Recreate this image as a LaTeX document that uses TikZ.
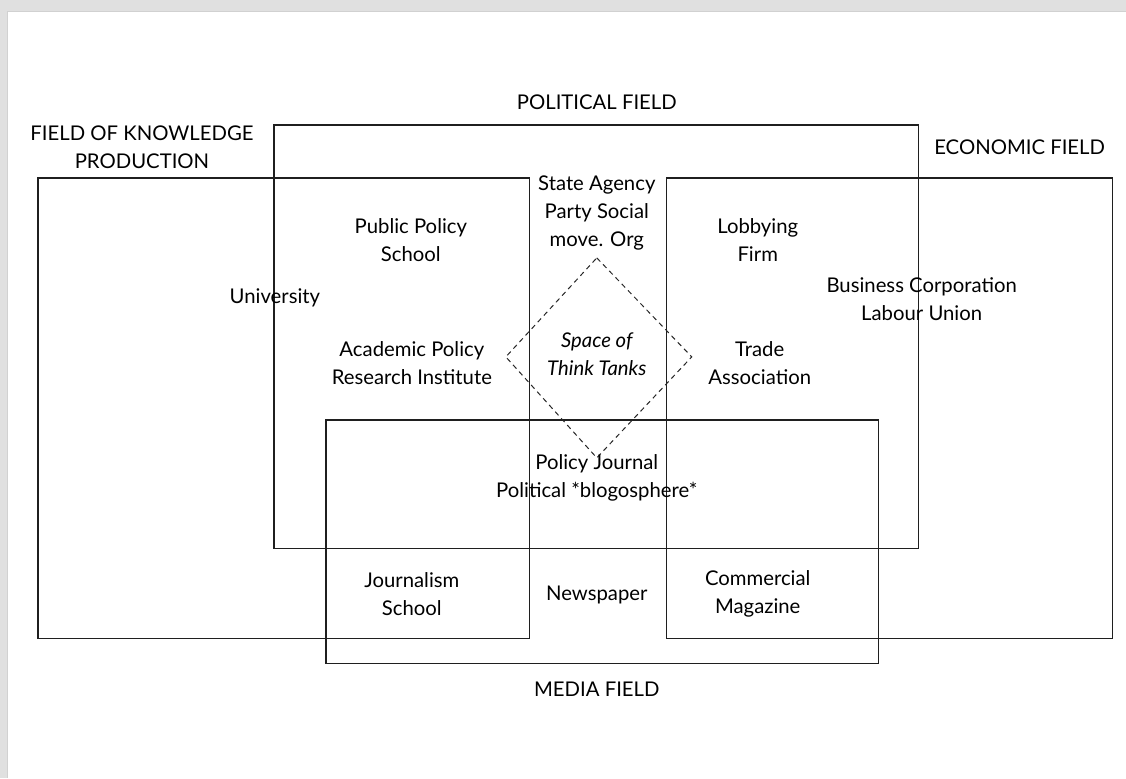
\documentclass[tikz,border=0pt]{standalone}
\usepackage{fontspec}
\setmainfont{Lato}
\begin{document}
\begin{tikzpicture}[x=1pt,y=-1pt,
  field/.style={draw=black!88,line width=1.3pt},
  lbl/.style={align=center,font=\fontsize{20.3}{28}\selectfont,inner sep=0pt,text=black},
  dia/.style={draw=black!85,line width=1pt,dash pattern=on 5pt off 4pt}]
\fill[black!12] (0,0) rectangle (1126,778);
\fill[white] (7,11) rectangle (1126,778);
\draw[black!18,line width=0.8pt] (7,778) -- (7,11) -- (1126,11);
\useasboundingbox (0,0) rectangle (1126,778);
% fields
\draw[field] (38,178) rectangle (530,639);
\draw[field] (274,125) rectangle (919,549);
\draw[field] (667,178) rectangle (1113,639);
\draw[field] (326,420) rectangle (879,664);
% think tank space
\draw[dia] (597,258) -- (692,357) -- (597,458) -- (506,357) -- cycle;
% labels
\node[lbl] (pol) at (597,102) {POLITICAL FIELD};
\node[lbl] (know) at (142,147) {FIELD OF KNOWLEDGE\\PRODUCTION};
\node[lbl] (eco) at (1020,147) {ECONOMIC FIELD};
\node[lbl] (med) at (597,689) {MEDIA FIELD};
\node[lbl] (state) at (597,213) {State Agency\\Party Social\\move. Org};
\node[lbl] (pps) at (411,240) {Public Policy\\School};
\node[lbl] (lob) at (758,240) {Lobbying\\Firm};
\node[lbl] (uni) at (275,298) {University};
\node[lbl] (bus) at (922,299) {Business Corporation\\Labour Union};
\node[lbl] (apri) at (412,363) {Academic Policy\\Research Institute};
\node[lbl,font=\fontsize{20.3}{28}\selectfont\itshape] (stt) at (597,354) {Space of\\Think Tanks};
\node[lbl] (ta) at (760,363) {Trade\\Association};
\node[lbl] (pj) at (597,478) {Policy Journal\\Political *blogosphere*};
\node[lbl] (js) at (412,594) {Journalism\\School};
\node[lbl] (np) at (597,595) {Newspaper};
\node[lbl] (cm) at (758,594) {Commercial\\Magazine};
\end{tikzpicture}
\end{document}
